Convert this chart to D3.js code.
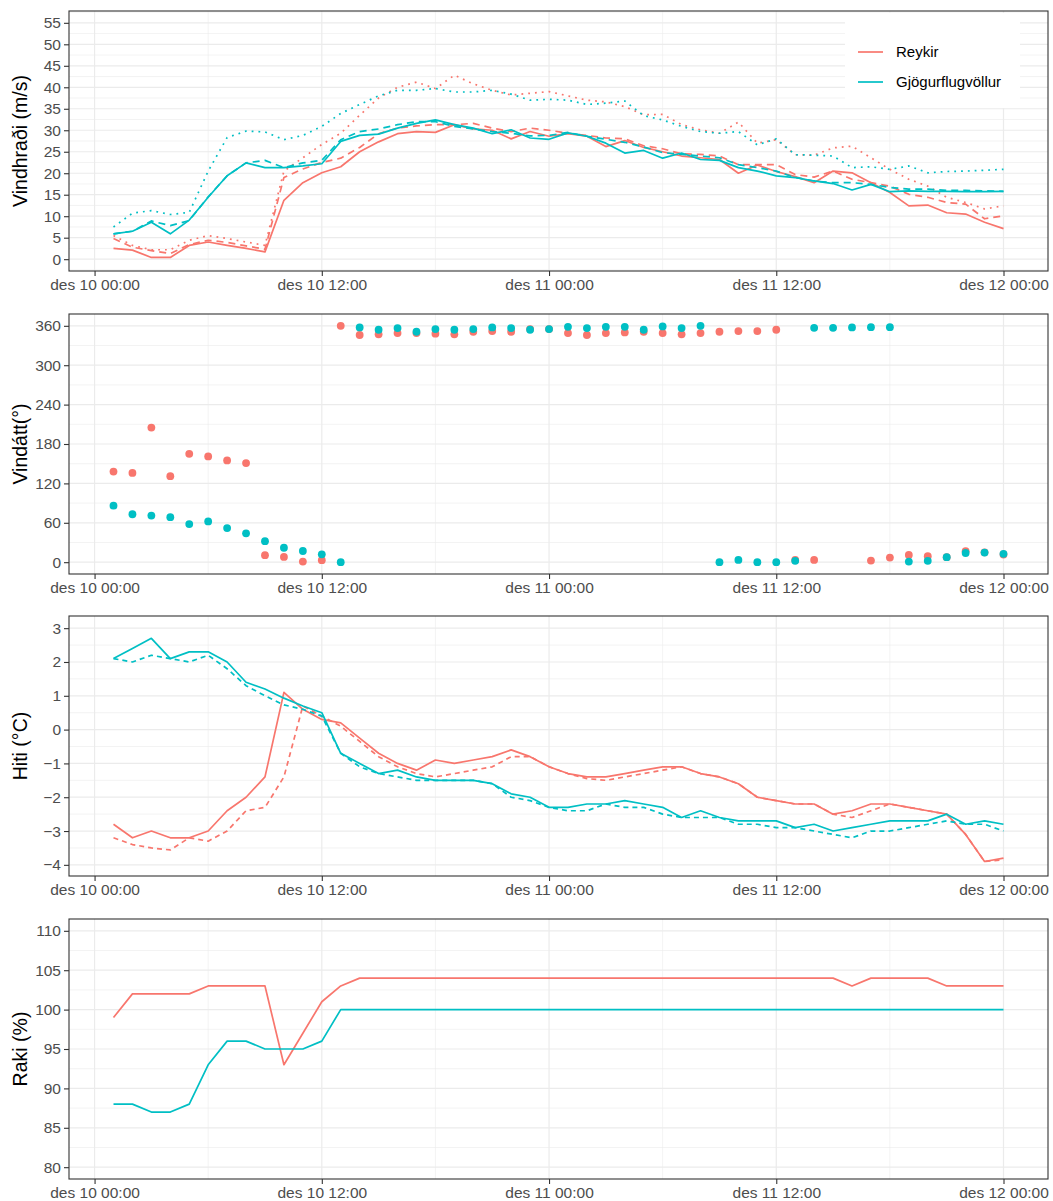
<!DOCTYPE html>
<html><head><meta charset="utf-8">
<script src="https://cdn.jsdelivr.net/npm/d3@7"></script>
<style>
body{margin:0;background:#fff}
text{font-family:"Liberation Sans", Arial, Helvetica, sans-serif}
</style>
</head><body>
<svg id="chart" width="1053" height="1201"></svg>
<script>
// ---------------- DATA ----------------
const stations = ["Reykir", "Gjögurflugvöllur"];
const stationColors = ["#F8766D", "#00BFC4"];
const firstObs = "2019-12-10T01:00:00";   // hourly observations, 48 of them
const nObs = 48;
const xTickTimes = ["2019-12-10T00:00:00","2019-12-10T12:00:00","2019-12-11T00:00:00","2019-12-11T12:00:00","2019-12-12T00:00:00"];
const xTickLabels = ["des 10 00:00","des 10 12:00","des 11 00:00","des 11 12:00","des 12 00:00"];
const xMinorTimes = ["2019-12-10T06:00:00","2019-12-10T18:00:00","2019-12-11T06:00:00","2019-12-11T18:00:00"];

// Wind speed (m/s)
const reykirWindSolid = [2.5,2.1,0.4,0.4,3.2,4.0,3.2,2.5,1.7,13.7,17.8,20.1,21.5,25.0,27.3,29.2,29.7,29.5,31.3,30.3,30.0,28.0,29.7,28.6,29.2,28.6,26.2,27.6,26.0,25.0,24.0,23.6,23.2,20.0,21.9,20.4,19.2,17.8,20.5,20.1,17.8,15.5,12.4,12.6,10.8,10.5,8.6,7.1];
const reykirWindDashed = [4.8,2.8,2.0,1.3,3.4,4.4,3.9,3.1,2.3,19.0,21.0,22.5,23.5,26.0,29.2,30.5,31.0,31.3,31.3,31.6,30.5,29.7,30.5,30.0,29.3,28.8,28.2,28.0,26.4,25.7,24.5,24.4,24.0,22.0,22.0,22.0,19.7,19.1,20.5,18.6,17.8,17.0,15.1,14.4,13.2,12.8,9.4,10.1];
const reykirWindDotted = [5.5,3.2,2.2,2.2,4.4,5.5,4.8,4.0,3.2,20.5,23.6,26.7,29.3,33.5,37.5,40.0,41.2,39.7,42.8,40.8,39.3,38.2,38.6,39.0,38.0,37.0,36.6,35.5,33.6,33.7,31.3,30.1,29.3,31.9,27.0,27.8,24.3,24.2,25.9,26.3,23.6,20.9,18.6,17.0,14.4,13.2,11.7,12.4];
const gjogurWindSolid = [5.9,6.5,8.6,5.9,9.1,14.4,19.4,22.4,21.3,21.3,21.7,22.2,27.4,28.8,29.1,30.5,31.6,32.4,31.3,30.5,29.2,30.1,28.2,27.9,29.4,28.6,27.0,24.7,25.3,23.5,24.7,23.2,23.0,21.3,20.5,19.4,19.0,18.2,17.6,16.1,17.4,15.7,15.9,15.8,15.8,15.7,15.7,15.8];
const gjogurWindDashed = [5.9,6.5,8.9,7.8,9.0,14.5,19.4,22.4,23.0,21.3,22.4,23.0,27.8,29.7,30.3,31.3,32.0,32.0,30.9,30.3,29.7,29.3,28.7,28.8,29.5,28.6,27.9,27.2,26.1,24.8,24.4,24.0,23.6,22.0,21.3,20.5,19.0,18.2,17.8,17.8,17.4,16.7,16.3,16.3,16.0,16.0,15.9,15.8];
const gjogurWindDotted = [7.5,10.7,11.3,10.4,10.9,20.5,28.3,29.8,29.6,27.8,28.8,30.9,33.9,36.0,38.0,39.3,39.3,39.7,38.9,38.9,39.3,38.4,37.0,37.2,37.0,36.0,36.3,36.8,33.4,32.4,30.9,29.7,29.3,29.7,26.6,28.0,24.3,24.2,24.0,21.3,21.5,20.9,21.7,20.1,20.4,20.5,20.7,20.9];

// Wind direction (degrees); null = no observation
const reykirDir = [138,136,205,131,165,161,155,151,10.6,8,1,3,360,346,347,349,349,348,347,351,352,351,355,355,349,346,349,350,351,349,347,349,351,352,352,354,3.5,3.5,null,null,2.5,7,11,9,7.6,16.7,15,11.7];
const gjogurDir = [86,73,71,68.5,58,62,52,44,32,22,17,12,0,357.5,354,356.5,351,355,354,355,357.5,356.5,354,355,358.5,356.5,358.5,358.5,354,359,356.5,360,0,3.5,0,0,2,357,357,357.5,358,358,1,2,7.6,14,14.7,12.7];

// Temperature (°C)
const reykirTempSolid = [-2.8,-3.2,-3.0,-3.2,-3.2,-3.0,-2.4,-2.0,-1.4,1.1,0.6,0.3,0.2,-0.25,-0.7,-1.0,-1.2,-0.9,-1.0,-0.9,-0.8,-0.6,-0.8,-1.1,-1.3,-1.4,-1.4,-1.3,-1.2,-1.1,-1.1,-1.3,-1.4,-1.6,-2.0,-2.1,-2.2,-2.2,-2.5,-2.4,-2.2,-2.2,-2.3,-2.4,-2.5,-3.1,-3.9,-3.8];
const reykirTempDashed = [-3.2,-3.4,-3.5,-3.56,-3.2,-3.3,-3.0,-2.4,-2.3,-1.4,0.7,0.4,0.1,-0.35,-0.8,-1.1,-1.3,-1.4,-1.3,-1.2,-1.1,-0.8,-0.8,-1.1,-1.3,-1.45,-1.5,-1.4,-1.3,-1.2,-1.1,-1.3,-1.4,-1.6,-2.0,-2.1,-2.2,-2.2,-2.5,-2.6,-2.4,-2.2,-2.3,-2.4,-2.5,-3.1,-3.9,-3.85];
const gjogurTempSolid = [2.1,2.4,2.7,2.1,2.3,2.3,2.0,1.4,1.2,0.93,0.7,0.5,-0.7,-1.0,-1.3,-1.2,-1.4,-1.5,-1.5,-1.5,-1.6,-1.9,-2.0,-2.3,-2.3,-2.2,-2.2,-2.1,-2.2,-2.3,-2.6,-2.4,-2.6,-2.7,-2.7,-2.7,-2.9,-2.8,-3.0,-2.9,-2.8,-2.7,-2.7,-2.7,-2.5,-2.8,-2.7,-2.8];
const gjogurTempDashed = [2.1,2.0,2.2,2.1,2.0,2.2,1.8,1.3,1.0,0.73,0.6,0.4,-0.7,-1.1,-1.3,-1.4,-1.5,-1.5,-1.5,-1.5,-1.6,-2.0,-2.1,-2.3,-2.4,-2.4,-2.2,-2.3,-2.3,-2.5,-2.6,-2.6,-2.6,-2.8,-2.8,-2.9,-2.9,-3.0,-3.1,-3.2,-3.0,-3.0,-2.9,-2.8,-2.7,-2.8,-2.8,-3.0];

// Relative humidity (%)
const reykirHum = [99,102,102,102,102,103,103,103,103,93,97,101,103,104,104,104,104,104,104,104,104,104,104,104,104,104,104,104,104,104,104,104,104,104,104,104,104,104,104,103,104,104,104,104,103,103,103,103];
const gjogurHum = [88,88,87,87,88,93,96,96,95,95,95,96,100,100,100,100,100,100,100,100,100,100,100,100,100,100,100,100,100,100,100,100,100,100,100,100,100,100,100,100,100,100,100,100,100,100,100,100];

// Y-axis breaks and titles
const windTicks = [0,5,10,15,20,25,30,35,40,45,50,55];
const dirTicks = [0,60,120,180,240,300,360];
const tempTicks = [-4,-3,-2,-1,0,1,2,3];
const humTicks = [80,85,90,95,100,105,110];
const panelTitles = ["Vindhraði (m/s)","Vindátt(°)","Hiti (°C)","Raki (%)"];

// ---------------- LAYOUT ----------------
const W = 1053;
const plotLeft = 69, plotRight = 1048;
const panelTops = [11, 314, 616, 919];
const panelH = 260;
const gridCol = "#EBEBEB", borderCol = "#333333", tickTextCol = "#4D4D4D";
const fontTick = 15.5, fontTitle = 19.5;
const lw = 1.7;

const svg = d3.select("#chart");
svg.append("rect").attr("width", W).attr("height", 1201).attr("fill", "#fff");

const t0 = new Date(firstObs);
const HOUR = 3600e3;
const times = d3.range(nObs).map(i => new Date(t0.getTime() + i * HOUR));
const xMin = new Date(new Date(xTickTimes[0]).getTime() - 1.35 * HOUR);
const xMax = new Date(new Date(xTickTimes[4]).getTime() + 2.35 * HOUR);
const x = d3.scaleTime().domain([xMin, xMax]).range([plotLeft, plotRight]);
const xTicks = xTickTimes.map(s => new Date(s));
const xMinor = xMinorTimes.map(s => new Date(s));

function minorBreaks(ticks, dom) {
  const step = ticks[1] - ticks[0];
  const out = [];
  for (let v = ticks[0] - step / 2; v <= ticks[ticks.length - 1] + step / 2 + 1e-9; v += step) {
    if (v >= dom[0] && v <= dom[1]) out.push(v);
  }
  return out;
}

const panelSpecs = [
  { ticks: windTicks, domain: [-2.75, 57.75],
    lines: [
      { v: reykirWindSolid, s: 0, dash: null },
      { v: reykirWindDashed, s: 0, dash: "7,5" },
      { v: reykirWindDotted, s: 0, dash: "1.8,5" },
      { v: gjogurWindSolid, s: 1, dash: null },
      { v: gjogurWindDashed, s: 1, dash: "7,5" },
      { v: gjogurWindDotted, s: 1, dash: "1.8,5" }
    ], points: [] },
  { ticks: dirTicks, domain: [-18, 378], lines: [],
    points: [ { v: reykirDir, s: 0 }, { v: gjogurDir, s: 1 } ] },
  { ticks: tempTicks, domain: [-4.33, 3.36],
    lines: [
      { v: reykirTempSolid, s: 0, dash: null },
      { v: reykirTempDashed, s: 0, dash: "5,4" },
      { v: gjogurTempSolid, s: 1, dash: null },
      { v: gjogurTempDashed, s: 1, dash: "5,4" }
    ], points: [] },
  { ticks: humTicks, domain: [78.5, 111.5],
    lines: [
      { v: reykirHum, s: 0, dash: null },
      { v: gjogurHum, s: 1, dash: null }
    ], points: [] }
];

panelSpecs.forEach((p, pi) => {
  const top = panelTops[pi], bottom = top + panelH;
  const y = d3.scaleLinear().domain(p.domain).range([bottom, top]);
  const g = svg.append("g");

  g.append("rect").attr("x", plotLeft).attr("y", top)
    .attr("width", plotRight - plotLeft).attr("height", panelH).attr("fill", "#fff");

  // minor grid
  minorBreaks(p.ticks, p.domain).forEach(v => {
    g.append("line").attr("x1", plotLeft).attr("x2", plotRight)
      .attr("y1", y(v)).attr("y2", y(v))
      .attr("stroke", gridCol).attr("stroke-width", 0.6);
  });
  xMinor.forEach(t => {
    g.append("line").attr("x1", x(t)).attr("x2", x(t)).attr("y1", top).attr("y2", bottom)
      .attr("stroke", gridCol).attr("stroke-width", 0.6);
  });
  // major grid
  p.ticks.forEach(v => {
    g.append("line").attr("x1", plotLeft).attr("x2", plotRight)
      .attr("y1", y(v)).attr("y2", y(v))
      .attr("stroke", gridCol).attr("stroke-width", 1.2);
  });
  xTicks.forEach(t => {
    g.append("line").attr("x1", x(t)).attr("x2", x(t)).attr("y1", top).attr("y2", bottom)
      .attr("stroke", gridCol).attr("stroke-width", 1.2);
  });

  const clipId = "clip" + pi;
  svg.append("clipPath").attr("id", clipId).append("rect")
    .attr("x", plotLeft).attr("y", top).attr("width", plotRight - plotLeft).attr("height", panelH);
  const dg = g.append("g").attr("clip-path", `url(#${clipId})`);

  p.lines.forEach(L => {
    const line = d3.line()
      .defined(d => d[1] !== null)
      .x(d => x(d[0])).y(d => y(d[1]));
    dg.append("path")
      .datum(times.map((t, i) => [t, L.v[i]]))
      .attr("d", line)
      .attr("fill", "none")
      .attr("stroke", stationColors[L.s])
      .attr("stroke-width", lw)
      .attr("stroke-linejoin", "round")
      .attr("stroke-dasharray", L.dash);
  });
  p.points.forEach(P => {
    dg.selectAll(null)
      .data(times.map((t, i) => [t, P.v[i]]).filter(d => d[1] !== null))
      .enter().append("circle")
      .attr("cx", d => x(d[0])).attr("cy", d => y(d[1]))
      .attr("r", 3.9).attr("fill", stationColors[P.s]);
  });

  g.append("rect").attr("x", plotLeft).attr("y", top)
    .attr("width", plotRight - plotLeft).attr("height", panelH)
    .attr("fill", "none").attr("stroke", borderCol).attr("stroke-width", 1.1);

  const ya = g.append("g").attr("transform", `translate(${plotLeft},0)`)
    .call(d3.axisLeft(y).tickValues(p.ticks).tickSize(5).tickPadding(3));
  ya.select(".domain").remove();
  ya.selectAll(".tick line").attr("stroke", borderCol).attr("stroke-width", 1.1);
  ya.selectAll(".tick text").attr("fill", tickTextCol).attr("font-size", fontTick)
    .attr("font-family", '"Liberation Sans", Arial, sans-serif');

  const xa = g.append("g").attr("transform", `translate(0,${bottom})`)
    .call(d3.axisBottom(x).tickValues(xTicks).tickFormat((d, i) => xTickLabels[i]).tickSize(5).tickPadding(3));
  xa.select(".domain").remove();
  xa.selectAll(".tick line").attr("stroke", borderCol).attr("stroke-width", 1.1);
  xa.selectAll(".tick text").attr("fill", tickTextCol).attr("font-size", fontTick)
    .attr("font-family", '"Liberation Sans", Arial, sans-serif');

  g.append("text")
    .attr("transform", `translate(27,${top + panelH / 2}) rotate(-90)`)
    .attr("text-anchor", "middle")
    .attr("font-size", fontTitle).attr("fill", "#000")
    .text(panelTitles[pi]);
});

// legend (inside first panel)
const lg = svg.append("g");
lg.append("rect").attr("x", 845).attr("y", 13).attr("width", 175).attr("height", 95).attr("fill", "#fff");
stations.forEach((s, i) => {
  const cy = 52 + i * 30;
  lg.append("line").attr("x1", 858).attr("x2", 883).attr("y1", cy).attr("y2", cy)
    .attr("stroke", stationColors[i]).attr("stroke-width", lw);
  lg.append("text").attr("x", 896).attr("y", cy).attr("dy", "0.35em")
    .attr("font-size", 15).attr("fill", "#000").text(s);
});
</script>
</body></html>
